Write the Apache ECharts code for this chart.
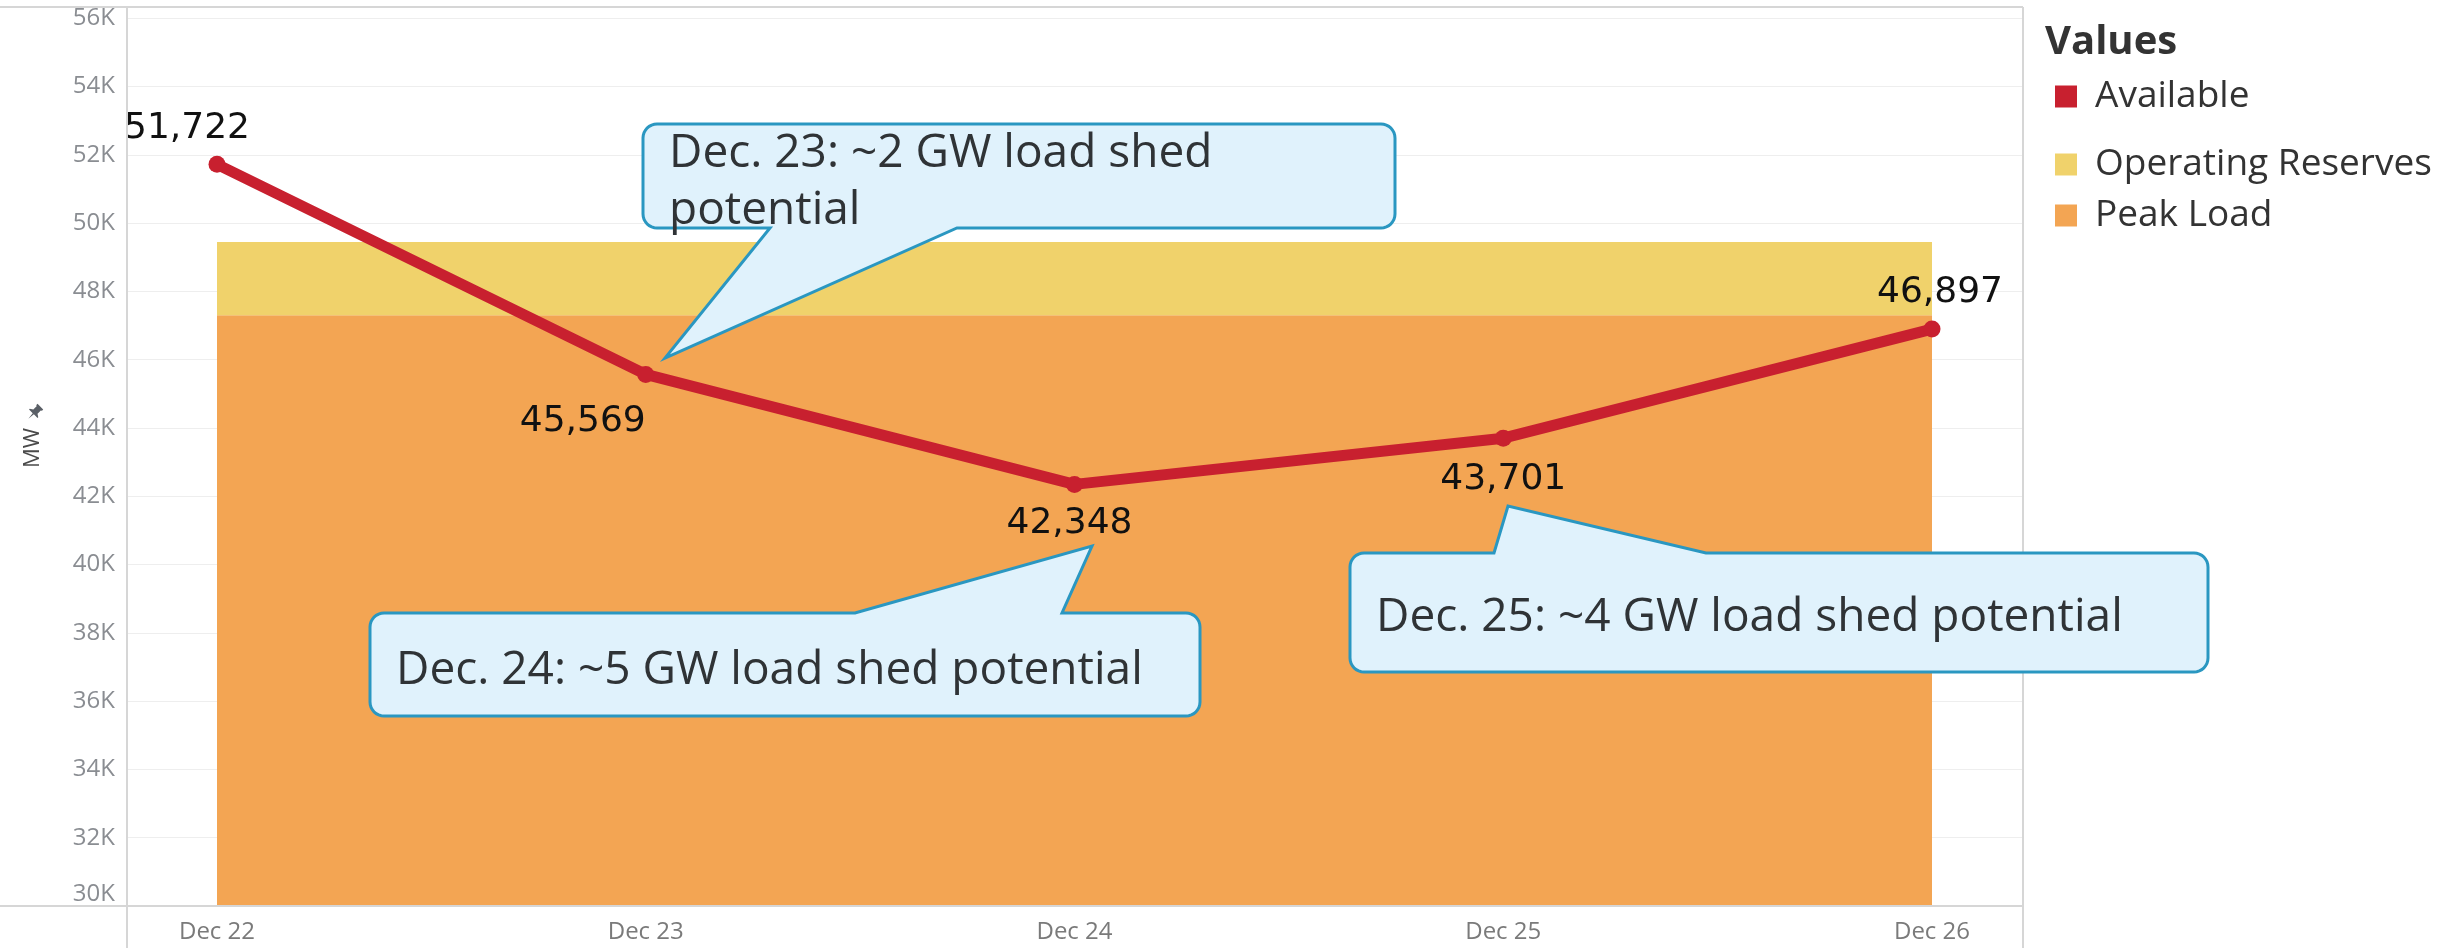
<!DOCTYPE html>
<html>
<head>
<meta charset="utf-8">
<title>Available vs Peak Load</title>
<script src="https://cdn.jsdelivr.net/npm/echarts@6/dist/echarts.min.js"></script>
<style>
  html, body { margin: 0; padding: 0; background: #ffffff; }
  #chart { width: 2461px; height: 948px; }
</style>
</head>
<body>
<div id="chart"></div>
<script>
// ---- data ----
const categories = ['Dec 22', 'Dec 23', 'Dec 24', 'Dec 25', 'Dec 26'];
const available = [51722, 45569, 42348, 43701, 46897];
const peakLoad = [47300, 47300, 47300, 47300, 47300];
const operatingReserves = [2150, 2150, 2150, 2150, 2150];
const seriesNames = ['Available', 'Operating Reserves', 'Peak Load'];
const calloutTexts = [
  'Dec. 23: ~2 GW load shed\npotential',
  'Dec. 24: ~5 GW load shed potential',
  'Dec. 25: ~4 GW load shed potential'
];
const legendTitle = 'Values';
const axisTitle = 'MW';

// ---- styles / layout ----
const RED = '#C8202F', YELLOW = '#F0D26B', ORANGE = '#F3A553';
const labelOffsets = [[-30, -36], [-63, 47], [-5, 39], [0, 41], [8, -36]];
const Y_MIN = 30000, Y_MAX = 56330;

function calloutPoints(L, T, R, B, r, side, w1, w2, tx, ty) {
  const pts = [];
  const arc = (cx, cy, a0, a1) => {
    const n = 8;
    for (let k = 0; k <= n; k++) {
      const a = (a0 + (a1 - a0) * k / n) * Math.PI / 180;
      pts.push([cx + r * Math.cos(a), cy + r * Math.sin(a)]);
    }
  };
  arc(L + r, T + r, 180, 270);
  if (side === 'top') { pts.push([w1, T], [tx, ty], [w2, T]); }
  arc(R - r, T + r, 270, 360);
  arc(R - r, B - r, 0, 90);
  if (side === 'bottom') { pts.push([w2, B], [tx, ty], [w1, B]); }
  arc(L + r, B - r, 90, 180);
  return pts;
}

const calloutStyle = { fill: '#E0F2FC', stroke: '#2A97C1', lineWidth: 3 };
const calloutFont = { fontFamily: 'Open Sans', fontSize: 46, fill: '#2f3336' };
const borderStyle = { stroke: '#d6d6d6', lineWidth: 2 };

const chart = echarts.init(document.getElementById('chart'), null, { renderer: 'canvas' });

const legendCommon = {
  left: 2055, padding: 0, orient: 'vertical', icon: 'rect',
  itemWidth: 22, itemHeight: 22, itemGap: 0, selectedMode: false,
  itemStyle: { borderWidth: 0 },
  textStyle: { fontFamily: 'Open Sans', fontSize: 37, color: '#333', lineHeight: 36, padding: [0, 0, 0, 13] }
};

const option = {
  animation: false,
  backgroundColor: '#ffffff',
  title: {
    text: legendTitle, left: 2045, top: 21, padding: 0,
    textStyle: { fontFamily: 'Open Sans', fontSize: 40, fontWeight: 'bold', color: '#333', lineHeight: 44 }
  },
  legend: [
    Object.assign({}, legendCommon, { data: [seriesNames[0]], top: 78 }),
    Object.assign({}, legendCommon, { data: [seriesNames[1]], top: 146 }),
    Object.assign({}, legendCommon, { data: [seriesNames[2]], top: 197 })
  ],
  grid: [
    { left: 127, right: 438, top: 7, bottom: 42 },
    { left: 217, right: 529, top: 7, bottom: 42 }
  ],
  xAxis: [
    { gridIndex: 0, type: 'value', show: false, min: 0, max: 1 },
    {
      gridIndex: 1, type: 'category', data: categories, boundaryGap: false,
      axisLine: { show: false }, axisTick: { show: false }, splitLine: { show: false },
      axisLabel: { fontFamily: 'Open Sans', fontSize: 24, color: '#7a7a7a', margin: 14 }
    }
  ],
  yAxis: [
    {
      gridIndex: 0, type: 'value', min: Y_MIN, max: Y_MAX, interval: 2000,
      axisLine: { show: false }, axisTick: { show: false },
      splitLine: { lineStyle: { color: '#eeeeee', width: 1 } },
      axisLabel: {
        fontFamily: 'Open Sans', fontSize: 24, color: '#8a8d92', margin: 12,
        verticalAlignMinLabel: 'bottom',
        formatter: v => (v % 2000 === 0 ? (v / 1000) + 'K' : '')
      }
    },
    { gridIndex: 1, type: 'value', min: Y_MIN, max: Y_MAX, show: false, splitLine: { show: false } }
  ],
  series: [
    {
      name: seriesNames[2], type: 'line', xAxisIndex: 1, yAxisIndex: 1, stack: 'load',
      data: peakLoad, symbol: 'none', color: ORANGE,
      lineStyle: { width: 0 }, areaStyle: { color: ORANGE, opacity: 1 }, z: 1, silent: true
    },
    {
      name: seriesNames[1], type: 'line', xAxisIndex: 1, yAxisIndex: 1, stack: 'load',
      data: operatingReserves, symbol: 'none', color: YELLOW,
      lineStyle: { width: 0 }, areaStyle: { color: YELLOW, opacity: 1 }, z: 1, silent: true
    },
    {
      name: seriesNames[0], type: 'line', xAxisIndex: 1, yAxisIndex: 1,
      data: available.map((v, i) => ({ value: v, label: { offset: labelOffsets[i] } })),
      symbol: 'circle', symbolSize: 17, color: RED,
      lineStyle: { width: 11, color: RED }, itemStyle: { color: RED },
      label: {
        show: true, position: 'inside',
        formatter: p => Number(p.value).toLocaleString('en-US'),
        fontFamily: 'DejaVu Sans', fontSize: 36, color: '#111111'
      },
      z: 5
    }
  ],
  graphic: [
    // frame lines
    { type: 'line', z: 10, shape: { x1: 0, y1: 7, x2: 2023, y2: 7 }, style: borderStyle, silent: true },
    { type: 'line', z: 10, shape: { x1: 0, y1: 906, x2: 2023, y2: 906 }, style: borderStyle, silent: true },
    { type: 'line', z: 10, shape: { x1: 127, y1: 7, x2: 127, y2: 948 }, style: borderStyle, silent: true },
    { type: 'line', z: 10, shape: { x1: 2023, y1: 7, x2: 2023, y2: 948 }, style: borderStyle, silent: true },
    // axis title
    {
      type: 'text', z: 10, x: 33, y: 448, rotation: Math.PI / 2,
      style: { text: axisTitle, fontFamily: 'Open Sans', fontSize: 22, fill: '#4a4a4a', align: 'center', verticalAlign: 'middle' }
    },
    // pin icon
    {
      type: 'polygon', z: 10, x: 34, y: 413, rotation: -Math.PI / 4,
      shape: { points: [[-4, -9], [4, -9], [4, -7], [3, -7], [3, -2], [6, 0], [6, 1], [0.8, 1], [0, 8], [-0.8, 1], [-6, 1], [-6, 0], [-3, -2], [-3, -7], [-4, -7]] },
      style: { fill: '#5a5f66' }
    },
    // callouts
    { type: 'polygon', z: 100, shape: { points: calloutPoints(643, 124, 1395, 228, 14, 'bottom', 770, 957, 665, 358) }, style: calloutStyle },
    { type: 'polygon', z: 100, shape: { points: calloutPoints(370, 613, 1200, 716, 14, 'top', 855, 1062, 1092, 546) }, style: calloutStyle },
    { type: 'polygon', z: 100, shape: { points: calloutPoints(1350, 553, 2208, 672, 14, 'top', 1494, 1706, 1508, 506) }, style: calloutStyle },
    {
      type: 'text', z: 101, x: 669, y: 125,
      style: Object.assign({ text: calloutTexts[0], lineHeight: 57, align: 'left', verticalAlign: 'top' }, calloutFont)
    },
    {
      type: 'text', z: 101, x: 396, y: 671,
      style: Object.assign({ text: calloutTexts[1], align: 'left', verticalAlign: 'middle' }, calloutFont)
    },
    {
      type: 'text', z: 101, x: 1376, y: 618,
      style: Object.assign({ text: calloutTexts[2], align: 'left', verticalAlign: 'middle' }, calloutFont)
    }
  ]
};

chart.setOption(option);
</script>
</body>
</html>
